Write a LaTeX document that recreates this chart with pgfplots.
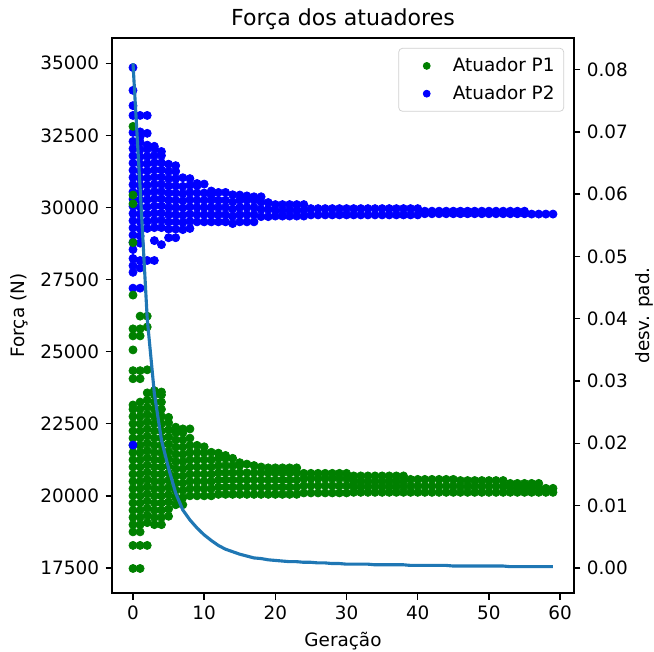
\documentclass[border=0pt]{standalone}
\usepackage{fontspec}
\setmainfont{DejaVu Sans}
\usepackage{pgfplots}
\pgfplotsset{compat=1.18}
\definecolor{mplgreen}{RGB}{0,128,0}
\definecolor{mplblue}{RGB}{0,0,255}
\definecolor{tabblue}{RGB}{31,119,180}

\pgfplotsset{
  base/.style={
    width=251pt, height=301.6pt, scale only axis,
    xmin=-2.95, xmax=61.95,
    axis line style={line width=0.8pt},
    tick style={line width=0.8pt, black},
    tick align=outside, major tick length=3.5pt,
    /pgf/number format/assume math mode=true,
    ticklabel style={font=\fontsize{10}{12}\selectfont},
    label style={font=\fontsize{10}{12}\selectfont},
  },
  dots/.style={only marks, mark=*, mark size=2.2pt, forget plot},
}

\begin{document}
\begin{tikzpicture}[font=\fontsize{10}{12}\selectfont]
\begin{axis}[base,
  ymin=16625, ymax=35875,
  xtick={0,10,...,60}, xtick pos=bottom,
  ytick={17500,20000,22500,25000,27500,30000,32500,35000}, ytick pos=left,
  scaled y ticks=false,
  yticklabel style={/pgf/number format/1000 sep={}},
  xlabel={Geração}, ylabel={Força (N)},
  title={Força dos atuadores}, title style={font=\fontsize{12}{14}\selectfont, yshift=-5pt},
  legend style={at={(1,1)}, anchor=north east, xshift=-5.4pt, yshift=-5.4pt,
    draw=black!18, rounded corners=2pt, inner sep=3pt, row sep=2pt,
    font=\fontsize{10}{12}\selectfont, cells={anchor=west}},
  legend image code/.code={\path (0,0) (2.4em,0); \draw[#1] plot coordinates {(1.2em,0)};},
]
\addlegendimage{only marks, mark=*, mark size=1.9pt, mplgreen}
\addlegendentry{Atuador P1}
\addlegendimage{only marks, mark=*, mark size=1.9pt, mplblue}
\addlegendentry{Atuador P2}

% Atuador P2
\addplot[dots, mplblue] coordinates {
(0,34850)(0,34060)(0,33530)(0,33190)(0,27200)(0,27750)(0,27980)(0,28230)(0,28540)(0,28790)(0,29040)(0,29290)(0,29540)(0,29790)(0,30040)(0,30290)(0,30540)(0,30790)(0,31040)(0,31290)(0,31540)(0,31790)(0,32040)(0,32290)(0,32600)
(1,33190)(1,27200)(1,27900)(1,28160)(1,28760)(1,29010)(1,29260)(1,29510)(1,29760)(1,30010)(1,30260)(1,30510)(1,30760)(1,31010)(1,31260)(1,31510)(1,31760)(1,32010)(1,32260)(1,32450)(1,32620)
(2,33190)(2,32570)(2,28160)(2,29270)(2,29520)(2,29770)(2,30020)(2,30270)(2,30520)(2,30770)(2,31020)(2,31270)(2,31520)(2,31770)(2,32020)(2,32160)
(3,28160)(3,28850)(3,29300)(3,29550)(3,29800)(3,30050)(3,30300)(3,30550)(3,30800)(3,31050)(3,31300)(3,31550)(3,31800)(3,32050)(3,32120)
(4,28710)(4,29300)(4,29550)(4,29800)(4,30050)(4,30300)(4,30550)(4,30800)(4,31050)(4,31300)(4,31550)(4,31800)(4,31940)
(5,28950)(5,29250)(5,29500)(5,29750)(5,30000)(5,30250)(5,30500)(5,30750)(5,31000)(5,31250)(5,31500)
(6,28950)(6,29250)(6,29500)(6,29750)(6,30000)(6,30250)(6,30500)(6,30750)(6,31000)(6,31250)(6,31450)
(7,29230)(7,29480)(7,29730)(7,29980)(7,30230)(7,30480)(7,30730)(7,31030)
(8,29270)(8,29520)(8,29770)(8,30020)(8,30270)(8,30520)(8,30770)(8,31000)
(9,29500)(9,29750)(9,30000)(9,30250)(9,30500)(9,30750)(9,30830)
(10,29500)(10,29750)(10,30000)(10,30250)(10,30500)(10,30810)
(11,29500)(11,29750)(11,30000)(11,30250)(11,30420)(11,30570)
(12,29500)(12,29750)(12,30000)(12,30250)(12,30520)
(13,29500)(13,29750)(13,30000)(13,30250)(13,30520)
(14,29440)(14,29690)(14,29940)(14,30190)(14,30440)
(15,29500)(15,29750)(15,30000)(15,30250)(15,30430)
(16,29500)(16,29750)(16,30000)(16,30250)(16,30400)
(17,29500)(17,29750)(17,30000)(17,30250)(17,30370)
(18,29680)(18,29930)(18,30180)(18,30370)
(19,29680)(19,29930)(19,30170)
(20,29700)(20,29900)(20,30100)(21,29700)(21,29900)(21,30100)(22,29700)(22,29900)(22,30100)
(23,29700)(23,29900)(23,30100)(24,29700)(24,29900)(24,30100)
(25,29740)(25,29960)(26,29740)(26,29960)(27,29740)(27,29960)(28,29740)(28,29960)
(29,29740)(29,29960)(30,29740)(30,29960)(31,29740)(31,29960)(32,29740)(32,29960)
(33,29740)(33,29960)(34,29740)(34,29960)(35,29740)(35,29960)(36,29740)(36,29960)
(37,29740)(37,29960)(38,29740)(38,29960)(39,29740)(39,29960)(40,29740)(40,29960)
(41,29780)(41,29870)(42,29780)(42,29870)(43,29780)(43,29870)(44,29780)(44,29870)
(45,29780)(45,29870)(46,29780)(46,29870)(47,29780)(47,29870)(48,29780)(48,29870)
(49,29780)(49,29870)(50,29780)(50,29870)(51,29780)(51,29870)(52,29780)(52,29870)
(53,29780)(53,29870)(54,29780)(54,29870)(55,29780)(55,29870)
(56,29770)(57,29770)(58,29770)(59,29770)
};

% Atuador P1
\addplot[dots, mplgreen] coordinates {
(0,32810)(0,30430)(0,30125)(0,28780)(0,26960)(0,25790)(0,25545)(0,25060)(0,24340)(0,24060)(0,17480)(0,18280)(0,18750)(0,19000)(0,19250)(0,19500)(0,19750)(0,20000)(0,20250)(0,20500)(0,20750)(0,21000)(0,21250)(0,21500)(0,21750)(0,22000)(0,22250)(0,22500)(0,22750)(0,23000)(0,23150)
(1,26230)(1,25790)(1,25545)(1,24340)(1,24060)(1,17480)(1,18280)(1,18750)(1,19000)(1,19250)(1,19500)(1,19750)(1,20000)(1,20250)(1,20500)(1,20750)(1,21000)(1,21250)(1,21500)(1,21750)(1,22000)(1,22250)(1,22500)(1,22750)(1,23000)(1,23250)
(2,26230)(2,25855)(2,24370)(2,18280)(2,19070)(2,19320)(2,19570)(2,19820)(2,20070)(2,20320)(2,20570)(2,20820)(2,21070)(2,21320)(2,21570)(2,21820)(2,22070)(2,22320)(2,22570)(2,22820)(2,23070)(2,23320)(2,23570)
(3,19000)(3,19250)(3,19500)(3,19750)(3,20000)(3,20250)(3,20500)(3,20750)(3,21000)(3,21250)(3,21500)(3,21750)(3,22000)(3,22250)(3,22500)(3,22750)(3,23000)(3,23250)(3,23500)(3,23650)
(4,19000)(4,19250)(4,19500)(4,19750)(4,20000)(4,20250)(4,20500)(4,20750)(4,21000)(4,21250)(4,21500)(4,21750)(4,22000)(4,22250)(4,22500)(4,22750)(4,23000)(4,23250)(4,23500)(4,23600)
(5,19290)(5,19540)(5,19790)(5,20040)(5,20290)(5,20540)(5,20790)(5,21040)(5,21290)(5,21540)(5,21790)(5,22040)(5,22290)(5,22540)(5,22720)
(6,19690)(6,19940)(6,20190)(6,20440)(6,20690)(6,20940)(6,21190)(6,21440)(6,21690)(6,21940)(6,22190)(6,22380)
(7,19690)(7,19940)(7,20190)(7,20440)(7,20690)(7,20940)(7,21190)(7,21440)(7,21690)(7,21940)(7,22190)(7,22320)
(8,20000)(8,20250)(8,20500)(8,20750)(8,21000)(8,21250)(8,21500)(8,21750)(8,22000)(8,22320)
(9,20000)(9,20250)(9,20500)(9,20750)(9,21000)(9,21250)(9,21500)(9,21750)
(10,20000)(10,20250)(10,20500)(10,20750)(10,21000)(10,21250)(10,21500)(10,21700)
(11,20000)(11,20250)(11,20500)(11,20750)(11,21000)(11,21250)(11,21510)
(12,20050)(12,20300)(12,20550)(12,20800)(12,21050)(12,21300)(12,21480)
(13,20050)(13,20300)(13,20550)(13,20800)(13,21050)(13,21300)(13,21400)
(14,20050)(14,20300)(14,20550)(14,20800)(14,21050)(14,21300)
(15,20050)(15,20300)(15,20550)(15,20800)(15,21050)(15,21150)
(16,20050)(16,20300)(16,20550)(16,20800)(16,21100)
(17,20050)(17,20300)(17,20550)(17,20800)(17,21050)
(18,20050)(18,20300)(18,20550)(18,20800)(18,21000)
(19,20050)(19,20300)(19,20550)(19,20800)(19,20970)(20,20050)(20,20300)(20,20550)(20,20800)(20,20970)
(21,20050)(21,20300)(21,20550)(21,20800)(21,20970)(22,20050)(22,20300)(22,20550)(22,20800)(22,20970)
(23,20050)(23,20300)(23,20550)(23,20800)(23,20970)
(24,20100)(24,20350)(24,20600)(24,20780)(25,20100)(25,20350)(25,20600)(25,20780)
(26,20100)(26,20350)(26,20600)(26,20780)(27,20100)(27,20350)(27,20600)(27,20780)
(28,20100)(28,20350)(28,20600)(28,20780)(29,20100)(29,20350)(29,20600)(29,20780)
(30,20100)(30,20350)(30,20600)(30,20780)
(31,20120)(31,20320)(31,20500)(31,20690)(32,20120)(32,20320)(32,20500)(32,20690)
(33,20120)(33,20320)(33,20500)(33,20690)(34,20120)(34,20320)(34,20500)(34,20690)
(35,20120)(35,20320)(35,20500)(35,20690)(36,20120)(36,20320)(36,20500)(36,20690)
(37,20120)(37,20320)(37,20500)(37,20690)(38,20120)(38,20320)(38,20500)(38,20690)
(39,20120)(39,20340)(39,20570)(40,20120)(40,20340)(40,20570)(41,20120)(41,20340)(41,20570)
(42,20120)(42,20340)(42,20570)(43,20120)(43,20340)(43,20570)(44,20120)(44,20340)(44,20570)
(45,20120)(45,20340)(45,20570)
(46,20120)(46,20330)(46,20530)(47,20120)(47,20330)(47,20530)(48,20120)(48,20330)(48,20530)
(49,20120)(49,20330)(49,20530)(50,20120)(50,20330)(50,20530)(51,20120)(51,20330)(51,20530)
(52,20120)(52,20330)(52,20530)
(53,20120)(53,20280)(53,20430)(54,20120)(54,20280)(54,20430)(55,20120)(55,20280)(55,20430)
(56,20120)(56,20280)(56,20430)(57,20120)(57,20280)(57,20430)
(58,20120)(58,20260)(59,20120)(59,20260)
};

% P2 point lying inside the P1 column
\addplot[dots, mplblue] coordinates {(0,21760)};

\coordinate (bbsw) at (rel axis cs:-0.2424,-0.1045);
\coordinate (bbne) at (rel axis cs:1.1732,1.0685);
\end{axis}

\begin{axis}[base,
  ymin=-0.00405, ymax=0.08505,
  axis y line*=right, axis x line=none,
  ytick={0,0.01,0.02,0.03,0.04,0.05,0.06,0.07,0.08},
  scaled y ticks=false,
  yticklabel style={/pgf/number format/.cd, fixed, fixed zerofill, precision=2},
  ylabel={desv. pad.},
  ylabel style={at={(axis description cs:1.1515,0.5)}, anchor=center},
]
\addplot[tabblue, line width=1.7pt] coordinates {
(0,0.0810)(1,0.0610)(2,0.0400)(3,0.0280)(4,0.0205)(5,0.0160)(6,0.0120)(7,0.0093)(8,0.0077)(9,0.0064)
(10,0.0053)(11,0.0044)(12,0.0036)(13,0.0030)(14,0.0026)(15,0.0022)(16,0.0019)(17,0.0016)(18,0.0015)(19,0.0013)
(20,0.0012)(21,0.0011)(22,0.0010)(23,0.0010)(24,0.0009)(25,0.0009)(26,0.0008)(27,0.0008)(28,0.0007)(29,0.0007)
(30,0.0006)(31,0.0006)(32,0.0006)(33,0.0006)(34,0.0005)(35,0.0005)(36,0.0005)(37,0.0005)(38,0.0005)(39,0.0004)
(40,0.0004)(41,0.0004)(42,0.0004)(43,0.0004)(44,0.0004)(45,0.0003)(46,0.0003)(47,0.0003)(48,0.0003)(49,0.0003)
(50,0.0003)(51,0.0003)(52,0.0003)(53,0.0002)(54,0.0002)(55,0.0002)(56,0.0002)(57,0.0002)(58,0.0002)(59,0.0002)
};
\end{axis}

\pgfresetboundingbox
\path[use as bounding box] (bbsw) rectangle (bbne);
\end{tikzpicture}
\end{document}
